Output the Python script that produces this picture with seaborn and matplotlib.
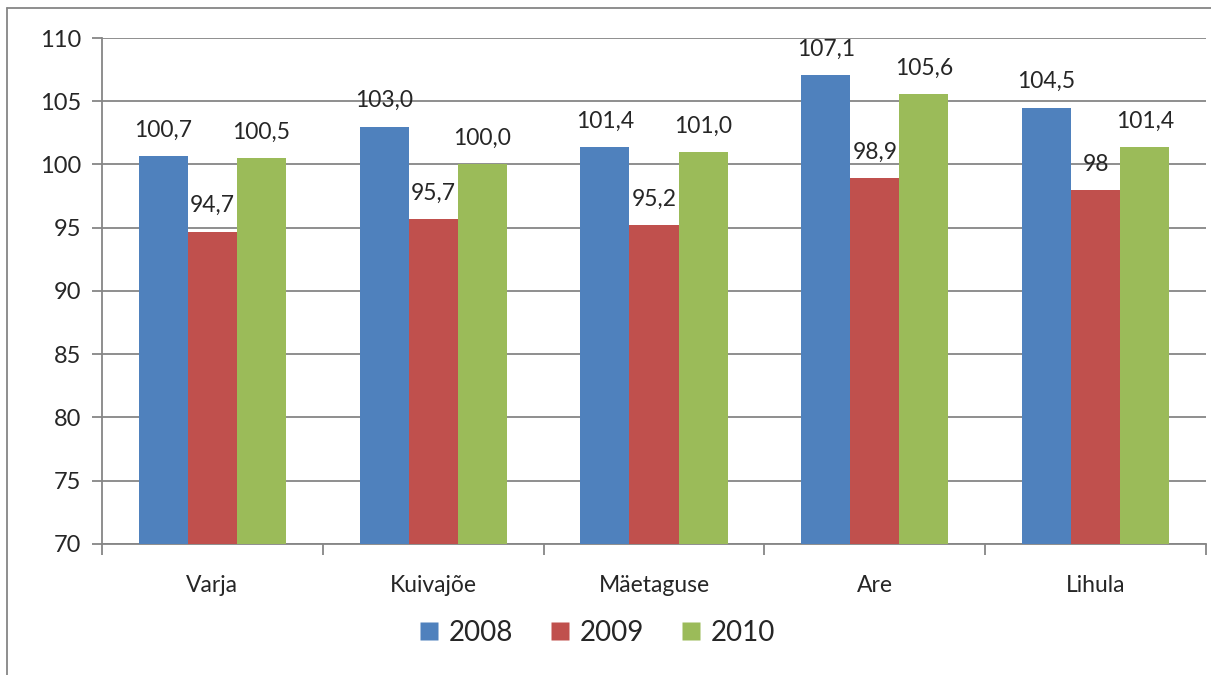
import pandas as pd
import matplotlib.pyplot as plt
import seaborn as sns
from matplotlib.lines import Line2D

sns.set_style("white")
plt.rcParams["font.family"] = ["Lato", "DejaVu Sans"]

places = ["Varja", "Kuivajõe", "Mäetaguse", "Are", "Lihula"]
years = ["2008", "2009", "2010"]
v2008 = [100.7, 103.0, 101.4, 107.1, 104.5]
v2009 = [94.7, 95.7, 95.2, 98.9, 98.0]
v2010 = [100.5, 100.0, 101.0, 105.6, 101.4]
labels2008 = ["100,7", "103,0", "101,4", "107,1", "104,5"]
labels2009 = ["94,7", "95,7", "95,2", "98,9", "98"]
labels2010 = ["100,5", "100,0", "101,0", "105,6", "101,4"]
colors = ["#4f81bd", "#c0504d", "#9bbb59"]

df = pd.DataFrame({
    "place": places * 3,
    "year": [y for y in years for _ in places],
    "value": v2008 + v2009 + v2010,
})

fig = plt.figure(figsize=(12.11, 6.75), dpi=100)
ax = fig.add_axes([0.0842, 0.1941, 0.9117, 0.7496])

sns.barplot(data=df, x="place", y="value", hue="year", palette=colors,
            saturation=1, width=0.667, gap=0, ax=ax, legend=False, zorder=3,
            edgecolor="none")

ax.set_ylim(70, 110)
ax.set_xlim(-0.5, 4.5)
ax.set_yticks(range(70, 111, 5))
ax.yaxis.grid(True, color="#868686", linewidth=1.3, zorder=0)
ax.set_axisbelow(True)
for s in ["top", "right"]:
    ax.spines[s].set_visible(False)
for s in ["left", "bottom"]:
    ax.spines[s].set_color("#868686")
    ax.spines[s].set_linewidth(1.3)
ax.tick_params(axis="y", which="major", length=7, width=1.3, color="#868686",
               labelsize=17, pad=8, left=True)
ax.tick_params(axis="x", which="major", length=0, labelsize=16.5, pad=22)
ax.set_xticks([i - 0.5 for i in range(6)], minor=True)
ax.tick_params(axis="x", which="minor", length=8, width=1.3, color="#868686",
               bottom=True)
ax.set_xlabel("")
ax.set_ylabel("")

all_labels = [labels2008, labels2009, labels2010]
for cont, labs in zip(ax.containers, all_labels):
    ax.bar_label(cont, labels=labs, padding=11, fontsize=16.5)

handles = [Line2D([], [], marker="s", linestyle="none", markersize=12.5,
                  markerfacecolor=c, markeredgecolor="none") for c in colors]
fig.legend(handles, years, loc="center", bbox_to_anchor=(0.493, 0.062), ncol=3,
           frameon=False, fontsize=20, handletextpad=0.35, columnspacing=1.35,
           handlelength=0.7)

# chart area border (left and top edges)
fig.add_artist(Line2D([0.0058, 0.0058], [0.0, 0.988], color="#868686",
                      linewidth=1.3, transform=fig.transFigure))
fig.add_artist(Line2D([0.0058, 1.0], [0.988, 0.988], color="#868686",
                      linewidth=1.3, transform=fig.transFigure))

fig.savefig("out.png", dpi=100)
